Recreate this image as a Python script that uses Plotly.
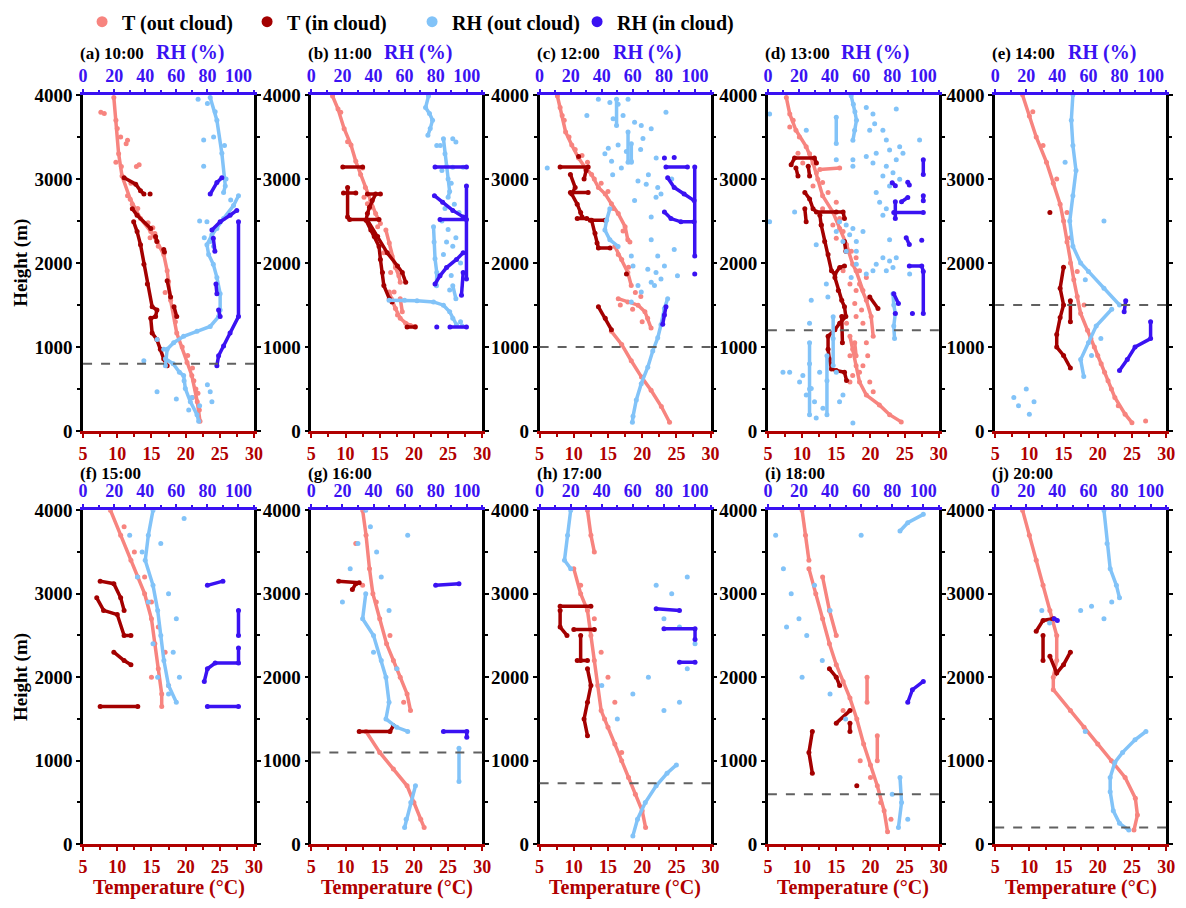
import plotly.graph_objects as go

FONT = "Liberation Serif"
COL_T_OUT = "#F7847F"
COL_T_IN = "#A30000"
COL_RH_OUT = "#82C3F8"
COL_RH_IN = "#3A12F2"
COL_T_AXIS = "#B00000"
COL_RH_AXIS = "#3A12F2"

W, H = 1186, 908
PANEL_LEFT = [79, 310, 541, 772, 1002]
PANEL_W = 173
ROW_SPAN = [(87, 431), (512, 854)]

PANEL_TITLES = ["(a) 10:00", "(b) 11:00", "(c) 12:00", "(d) 13:00", "(e) 14:00",
                "(f) 15:00", "(g) 16:00", "(h) 17:00", "(i) 18:00", "(j) 20:00"]
PBL_HEIGHTS = [800, None, 1000, 1200, 1500, None, 1100, 730, 600, 200]
T_TICKS = [5, 10, 15, 20, 25, 30]
RH_TICKS = [0, 20, 40, 60, 80, 100]
H_TICKS = [0, 1000, 2000, 3000, 4000]

# ---- (a) 10:00 : segments of (value, height) ----
A_T_OUT = [[(9.5, 3970), (9.8, 3700), (10.2, 3300), (10.7, 3035), (11.9, 2760), (13.4, 2530), (14.9, 2375),
            (15.8, 2257), (16.8, 2100), (17.3, 1907), (17.8, 1556), (18.7, 1167), (20.2, 817), (20.9, 661),
            (21.7, 350), (22.1, 117)]]
A_T_OUT_PTS = [(7.6, 3794), (8.1, 3780), (11.5, 3460), (11.3, 3420), (12.8, 3150), (13.2, 3170), (12.0, 2950),
               (11.5, 2800), (12.2, 2700), (13.0, 2650), (14.5, 2480), (15.2, 2420), (15.5, 2350), (14.8, 2300),
               (16.0, 2200), (17.0, 1650), (17.5, 1780), (18.5, 1300), (19.5, 1000), (20.3, 900), (21.0, 750),
               (21.5, 500), (21.0, 400), (22.0, 250), (21.8, 450), (21.2, 600), (10.0, 3600), (10.5, 3500),
               (9.8, 3200), (10.6, 3150)]
A_T_IN = [[(11.0, 3015), (12.7, 2938), (13.4, 2860), (13.9, 2821)], [(14.8, 2821)],
          [(12.2, 2646), (12.9, 2568), (14.9, 2412)], [(15.6, 2315), (15.8, 2257)], [(16.8, 2160), (16.9, 2130)],
          [(12.4, 2490), (12.9, 2374), (13.4, 2218), (13.9, 1984), (14.4, 1751), (15.1, 1479), (15.8, 1440),
           (15.6, 1362), (14.9, 1342), (15.1, 1167), (15.8, 1089), (16.3, 973), (16.8, 856), (17.3, 778)],
          [(17.3, 1790), (17.8, 1595)], [(18.3, 1479), (18.7, 1362)]]
A_RH_OUT = [[(81.8, 3970), (86.1, 3700), (89.3, 3307), (91.5, 2918), (90.4, 2840)],
            [(100, 2800), (96.8, 2685), (90.4, 2529), (86.1, 2412), (82.9, 2335), (79.7, 2218), (80.8, 2101),
             (83.8, 1984), (86.1, 1829), (88.2, 1634), (88.2, 1440), (87.2, 1362), (81.8, 1245), (73.3, 1187),
             (64.7, 1128), (58.3, 1051), (54.1, 973), (53.0, 778)],
            [(53.0, 860), (58.0, 800), (62.0, 700), (64.7, 661), (65.8, 506), (69.0, 350), (73.3, 195), (74.4, 117)]]
A_RH_OUT_PTS = [(77.6, 3463), (77.6, 3152), (79.7, 2490), (81.8, 2257), (47.6, 1089), (51.9, 973), (39.1, 837),
                (47.6, 467), (81.8, 467), (82.9, 350), (74, 3950), (80, 3900), (85, 3800), (84, 3500), (91, 3400),
                (92, 3000), (95, 2750), (75, 2500), (78, 2300), (84, 2200), (65, 600), (70, 400), (75, 300),
                (80, 550), (60, 380), (68, 250)]
A_RH_IN = [[(81.8, 2821), (86.1, 2957), (89.3, 3015)], [(82.9, 2393), (88.2, 2490), (94.6, 2568), (98.9, 2626)],
           [(83.8, 2296), (84.8, 2140)], [(85.5, 1751), (86.1, 1634)], [(87.2, 1440), (88.2, 1362)],
           [(100, 2490), (100, 1362), (94.6, 1167), (90.4, 1012), (87.2, 895), (86.1, 778)]]

# ---- (b) 11:00 ----
B_T_OUT = [[(8.1, 3988), (8.9, 3833), (9.8, 3599), (10.8, 3405), (11.5, 3210), (12.2, 3054), (12.9, 2899),
            (13.7, 2743), (14.4, 2588), (15.1, 2471)],
           [(15.9, 2393), (16.4, 2237), (16.8, 2082), (17.3, 1946), (17.8, 1848), (18.0, 1770)],
           [(16.4, 1654), (16.7, 1576), (17.3, 1459), (18.0, 1342), (18.8, 1284), (19.5, 1257), (20.2, 1245)],
           [(18.0, 1576), (18.3, 1420)]]
B_T_OUT_PTS = [(9.3, 3794), (10.3, 3444), (12.7, 2782), (13.2, 2704), (14.7, 2432), (13.9, 2665), (15.6, 2121),
               (16.6, 1887), (17.1, 1654), (17.6, 1381), (12.5, 3132)]
B_T_IN = [[(9.6, 3144), (12.5, 3144)], [(9.7, 2833), (11.5, 2833)],
          [(10.3, 2899), (10.3, 2549), (10.6, 2518), (14.9, 2518)], [(13.2, 2821), (15.1, 2821)],
          [(14.4, 2821), (13.9, 2743), (13.5, 2665), (13.2, 2588), (13.0, 2510), (13.7, 2393), (14.2, 2315),
           (14.9, 2198), (15.1, 2043), (15.4, 1887), (15.6, 1732), (16.4, 1576), (16.8, 1537)],
          [(13.2, 2510), (14.7, 2315), (16.1, 2121), (17.6, 1965), (18.3, 1887), (18.8, 1770)],
          [(19.0, 1237), (20.2, 1237)]]
B_RH_OUT = [[(75.4, 3988), (73.5, 3850), (76, 3780), (78, 3700), (76.5, 3600), (75, 3520)],
            [(85, 3480), (86, 3300), (87, 3150), (88, 3000), (89, 2850), (88, 2782)],
            [(78.6, 2432), (79, 2250), (79.6, 2050), (80.7, 1887), (80.5, 1730)],
            [(50, 1556), (60, 1556), (68, 1550), (78.6, 1537), (85, 1498), (89, 1420), (91, 1342), (93.4, 1265)],
            [(91, 1730), (93, 1576)]]
B_RH_OUT_PTS = [(80.7, 3400), (83, 3400), (91, 3480), (93, 3440), (97.7, 3140), (91, 3140), (84, 3100), (90, 2950),
                (92, 2700), (95, 2600), (86, 2650), (84, 2500), (88, 2400), (87, 2250), (91, 2200), (93, 2300),
                (85, 2100), (96, 2000), (90, 1850), (89, 1680), (97, 1250), (96, 1300)]
B_RH_IN = [[(79.6, 3144), (99.8, 3144)], [(99.8, 2918), (99.8, 1809)],
           [(79.2, 2801), (84.5, 2724), (91, 2626), (97.7, 2549)], [(82.8, 2518), (99.8, 2518)],
           [(97.7, 2121), (93.4, 2043), (87, 1946), (82.8, 1848), (79.6, 1751)], [(97.7, 1887), (96.6, 1615)],
           [(80.7, 1237)], [(89.2, 1237), (99.8, 1237)]]

# ---- (c) 12:00 ----
C_T_OUT = [[(7.6, 3988), (8.3, 3755), (8.8, 3560), (9.7, 3405), (10.7, 3249), (11.7, 3132), (12.6, 3054),
            (13.6, 2899), (14.6, 2821), (15.5, 2704), (16.5, 2588), (17.5, 2432), (17.9, 2276)],
           [(16.0, 2198), (17.0, 2043), (17.9, 1887), (18.4, 1732)],
           [(16.5, 1576), (17.9, 1537), (19.4, 1498), (20.4, 1420), (20.8, 1342), (21.3, 1226)],
           [(15.5, 1187), (17.0, 1031), (18.4, 837), (19.9, 642), (21.3, 486), (22.8, 292), (24.0, 105)]]
C_T_OUT_PTS = [(8, 3850), (8.6, 3700), (9.3, 3500), (10.2, 3350), (11.2, 3280), (12, 3200), (13, 3000), (14, 2950),
               (15, 2850), (15.8, 2650), (17.2, 2380), (18.2, 2250), (16.5, 2100), (18, 1950), (19, 1650),
               (19.8, 1600), (18.6, 1450), (16.8, 1500), (20, 1300)]
C_T_IN = [[(8.0, 3144), (12.1, 3144)],
          [(9.5, 3054), (10.2, 2899), (9.7, 2821), (10.5, 2700), (11.0, 2600), (11.2, 2549)],
          [(9.5, 2840), (12.1, 2840)], [(10.5, 2529), (11.9, 2529)], [(12.4, 2510), (14.6, 2510)],
          [(12.6, 2510), (13.1, 2354), (13.4, 2237), (13.6, 2179), (15.3, 2179)],
          [(13.6, 1479), (14.6, 1342), (15.5, 1206)], [(17.7, 1868)], [(10.7, 3268)], [(11.5, 3000), (11.8, 3100)]]
C_RH_OUT = [[(45.2, 2646), (43.1, 2510), (42, 2393), (45.2, 2276), (50.5, 2198)],
            [(82.4, 1576), (80.3, 1459), (78.1, 1265), (76, 1109), (72.8, 953), (69.6, 759), (65.4, 564),
             (62.2, 370), (60.1, 175), (59.7, 105)],
            [(49.5, 3949), (49.5, 3638)], [(56.9, 3560), (56.9, 3200)], [(59, 3420), (59, 3200)]]
C_RH_OUT_PTS = [(37.8, 3949), (45.2, 3910), (50.5, 3891), (56.9, 3949), (47.3, 3716), (53.7, 3755), (61.1, 3677),
                (65.4, 3638), (71.8, 3599), (81.3, 3794), (30.4, 3755), (44.2, 3366), (50.5, 3405), (55.8, 3327),
                (66.5, 3482), (46.3, 3210), (52.6, 3132), (59, 3210), (63.3, 2977), (68.6, 2938), (76, 2899),
                (74.9, 2782), (78.1, 2821), (61.1, 2743), (71.8, 2549), (4.9, 3132), (71.8, 2276), (76, 2082),
                (80.3, 1965), (86.6, 2160), (69.6, 1926), (74.9, 1887), (71.8, 1770), (65.4, 1654), (63.3, 1732),
                (59, 1537), (73.9, 1732), (78.1, 1809), (88.7, 1848), (60.1, 1965), (59, 2082), (42, 3300),
                (47, 3050), (65, 3350), (70, 3050), (75, 3250), (85, 3000)]
C_RH_IN = [[(81.3, 3144), (95.1, 3144)], [(80.3, 3249)], [(86.6, 3257)], [(99.8, 3144), (99.8, 2082)],
           [(82.4, 3016), (86.6, 2899), (93, 2821), (99.4, 2743)],
           [(80.3, 2607), (84.5, 2529), (90.9, 2490), (99.4, 2490)],
           [(79.2, 1272), (80.3, 1381), (81.3, 1479)], [(99.8, 1868)]]

# ---- (d) 13:00 ----
D_T_OUT = [[(7.7, 3969), (8.2, 3774), (9.1, 3580), (10.6, 3385), (11.6, 3191), (12.3, 2996), (13.0, 2802),
            (14.5, 2607), (15.5, 2412), (16.5, 2218), (17.4, 1984), (17.9, 1907), (18.9, 1673)],
           [(17.0, 1128), (17.9, 778), (18.4, 584), (19.4, 428), (21.3, 311), (22.8, 195), (24.5, 109)],
           [(18.4, 1751), (19.4, 1556), (20.1, 1362), (20.4, 1128)], [(17.7, 1051), (17.9, 895)],
           [(12.6, 3113), (15.5, 3132)]]
D_T_OUT_PTS = [(8.7, 3700), (9.6, 3500), (11.1, 3300), (12.1, 3074), (13.0, 2957), (13.8, 2840), (15.0, 2724),
               (15.5, 2529), (16.0, 2374), (17.2, 2140), (17.9, 2062), (18.4, 1907), (19.4, 1829), (17.0, 1751),
               (16.0, 1362), (16.5, 1284), (17.9, 1362), (18.9, 1284), (19.4, 1051), (17.4, 973), (17.0, 895),
               (18.9, 778), (17.4, 661), (17.0, 584), (18.4, 700), (19.9, 584), (20.4, 467), (17.9, 1673),
               (17.7, 1518), (18.7, 1440), (19.6, 895), (16.0, 1907), (15.0, 2296), (14.5, 2451), (13.0, 2646),
               (11.6, 2918), (10.1, 3191), (9.4, 3307), (8.2, 3619)]
D_T_IN = [[(8.4, 3171), (8.9, 3249), (11.8, 3249), (12.1, 3190)], [(9.1, 3132), (9.4, 3035)],
          [(10.9, 3152), (11.1, 3035)],
          [(10.4, 2840), (11.1, 2763), (11.6, 2646), (12.1, 2607), (15.0, 2607), (16.0, 2607), (16.2, 2529)],
          [(10.4, 2646), (10.6, 2490)], [(12.6, 2568), (12.8, 2451)],
          [(12.8, 2451), (13.3, 2257), (13.8, 2101), (14.3, 1907), (14.8, 1868), (15.5, 1946), (16.2, 1965)],
          [(14.8, 1829), (15.3, 1673), (15.8, 1556), (16.2, 1479), (16.4, 1362), (15.5, 1284), (14.8, 1206),
           (13.8, 1128), (13.8, 973), (14.0, 856), (14.3, 739), (15.0, 720), (16.2, 700), (16.5, 603)],
          [(15.8, 1362), (15.9, 1051)], [(16.2, 2257), (16.4, 2140)], [(19.9, 1595), (21.1, 1459)]]
D_RH_OUT = [[(53.6, 3990), (55, 3890), (56, 3800), (57, 3700), (55.8, 3580), (54.7, 3460)],
            [(44, 3735), (44, 3424)], [(80.5, 1634), (81, 1500), (82, 1400), (81, 1250), (81.5, 1100)],
            [(26.8, 1050), (26.8, 800), (26.8, 500), (26.8, 195)], [(38, 895), (38, 600), (38, 195)],
            [(42, 1360), (42, 1100), (42, 780)]]
D_RH_OUT_PTS = [(63.3, 3852), (67.6, 3774), (68.7, 3658), (65.5, 3580), (74, 3580), (82.6, 3833), (76.2, 3463),
                (78.3, 3346), (84.8, 3385), (86.9, 3307), (82.6, 3230), (76.2, 3152), (80.5, 3074), (74, 3035),
                (78.3, 2918), (84.8, 2996), (69.7, 2840), (71.9, 2724), (76.2, 2646), (74, 2568), (69.7, 3307),
                (63.3, 3268), (67.6, 3191), (54.7, 3230), (54.7, 3152), (44, 3230), (24.7, 3580), (1.1, 3774),
                (97.6, 3463), (46.1, 2490), (50.4, 2451), (54.7, 2412), (52.6, 2335), (56.9, 2257), (48.3, 2257),
                (50.4, 2140), (61.2, 2374), (44, 2374), (56.9, 2140), (74, 2062), (78.3, 2023), (80.5, 1946),
                (76.2, 1907), (82.6, 2062), (69.7, 1984), (67.6, 1907), (63.3, 1868), (91.2, 1868), (9.7, 700),
                (14, 700), (22.5, 661), (20.4, 584), (27.9, 506), (24.7, 428), (30, 350), (35.4, 272),
                (31.1, 156), (54.7, 97), (33.3, 700), (48.3, 428), (46.1, 350), (44, 700), (38.6, 1595),
                (27.9, 1556), (26.8, 1284), (1.1, 2490), (17.2, 2607), (31.1, 2218), (37.6, 1751), (78.3, 2276),
                (56.9, 1984), (53.6, 1829)]
D_RH_IN = [[(100, 3230), (100, 3055)], [(100, 2800), (100, 2740)], [(80, 2955), (82, 2920)],
           [(90, 2960), (91, 2930)], [(81, 2600), (100, 2600)], [(82, 2730), (82, 2530)], [(86, 2730), (90, 2780)],
           [(89, 2300), (91, 2220)], [(99, 2270)], [(91, 1965), (99, 1965), (100, 1900), (100, 1400)],
           [(81, 1634), (84, 1518)], [(82, 1400)], [(93, 1400)]]

# ---- (e) 14:00 ----
E_T_OUT = [[(9, 4000), (10, 3750), (11, 3500), (12.5, 3200), (13.5, 2950), (14.5, 2700), (15, 2500), (15.5, 2250),
            (16, 2000), (16.5, 1800), (17, 1600), (17.5, 1400), (18.5, 1200), (19.5, 1000), (20.5, 800),
            (21.5, 600), (22.5, 400), (24, 200), (25, 100)]]
E_T_OUT_PTS = [(10.5, 3800), (12, 3400), (14, 3000), (15.5, 2600), (16, 2300), (17, 1900), (18, 1500),
               (19, 1100), (20, 900), (21, 700), (22, 500), (23, 300), (27, 120)]
E_T_IN = [[(15, 1950), (14.5, 1700), (15, 1500), (14.5, 1350), (14, 1150), (14, 1000), (15, 900), (16, 750)],
          [(16, 1550), (16, 1300)], [(13, 2600)]]
E_RH_OUT = [[(50, 4000), (49, 3700), (50, 3400), (52, 3100), (50, 2800), (48, 2500), (50, 2200), (55, 2000),
             (60, 1900), (70, 1700), (80, 1500)], [(75, 1450), (65, 1250), (60, 1050), (55, 850), (57, 650)]]
E_RH_OUT_PTS = [(20, 500), (15, 300), (22, 200), (12, 400), (25, 350), (70, 2500), (58, 1800), (62, 900),
                (68, 1100), (45, 3200)]
E_RH_IN = [[(84, 1550), (83, 1420)], [(100, 1300), (100, 1100), (90, 1000), (85, 850), (80, 720)]]

# ---- (f) 15:00 ----
F_T_OUT = [[(9, 4000), (10.5, 3700), (12, 3400), (13, 3200), (14, 3000), (15, 2700), (15.5, 2400), (16, 2100),
            (16.5, 1800), (16.5, 1650)]]
F_T_OUT_PTS = [(11, 3800), (12.5, 3500), (14, 3200), (15, 2900), (16, 2600), (17, 2300), (15, 2000), (17.5, 1900)]
F_T_IN = [[(7.5, 3150), (9.5, 3120), (10.5, 2950), (11, 2800)],
          [(7, 2950), (8, 2800), (10, 2750), (11, 2500), (12, 2500)], [(9.5, 2300), (11, 2200), (12, 2150)],
          [(7.5, 1650), (13, 1650)]]
F_RH_OUT = [[(45, 4000), (42, 3700), (40, 3400), (45, 3100), (48, 2800), (50, 2500), (52, 2200), (55, 1900),
             (60, 1700)]]
F_RH_OUT_PTS = [(30, 3700), (38, 3500), (50, 3600), (35, 3200), (55, 3000), (42, 2900), (60, 2700), (45, 2400),
                (58, 2300), (48, 2000), (62, 2000), (55, 1800), (65, 3900)]
F_RH_IN = [[(80, 3100), (90, 3150)], [(100, 2800), (100, 2500)],
           [(78, 1950), (80, 2100), (85, 2170), (100, 2170), (100, 2350)], [(80, 1650), (100, 1650)]]

# ---- (g) 16:00 ----
G_T_OUT = [[(12.5, 4000), (13, 3700), (13.5, 3300), (14, 3000), (15, 2700), (16, 2400), (17, 2200), (18, 2000),
            (19, 1800), (19.5, 1600)],
           [(13, 1350), (15, 1100), (17, 900), (19, 700), (20, 500), (21, 300), (21.5, 200)]]
G_T_OUT_PTS = [(11.5, 3600), (12.5, 3100), (14.5, 2900), (16.5, 2500), (17.5, 2100), (18.5, 1700)]
G_T_IN = [[(9, 3150), (12, 3130)], [(11, 3050), (11.5, 3120)], [(12, 1350), (16.5, 1350), (17, 1420)]]
G_RH_OUT = [[(35, 3000), (33, 2700), (40, 2500), (45, 2200), (48, 2000), (50, 1700), (48, 1500), (55, 1400),
             (62, 1350)], [(95, 1150), (95, 750)], [(67, 700), (64, 500), (61, 300), (60, 200)]]
G_RH_OUT_PTS = [(35, 4000), (38, 3800), (30, 3600), (42, 3500), (25, 3300), (45, 3200), (20, 2900), (50, 2800),
                (62, 3700), (40, 2300), (55, 2100)]
G_RH_IN = [[(80, 3100), (95, 3120)], [(85, 1350), (100, 1350), (100, 1280)]]

# ---- (h) 17:00 ----
H_T_OUT = [[(12, 4000), (12.5, 3700), (13, 3500)],
           [(10, 3300), (11, 3000), (12, 2800), (12.5, 2500), (13, 2200), (13.5, 1900), (14, 1600), (15, 1400),
            (16, 1200), (17, 1000), (18, 800), (19, 600), (20, 400), (20.5, 200)]]
H_T_OUT_PTS = [(11, 3100), (13, 2700), (14, 2300), (15, 2000), (16, 1700), (14.5, 1500), (17, 1100)]
H_T_IN = [[(8, 2850), (12.5, 2850)], [(8, 2800), (8, 2600), (9, 2500)], [(10, 2570), (13, 2570)],
          [(11, 2500), (11, 2200)], [(10.5, 2200), (12, 2200)],
          [(12, 2100), (12.5, 1900), (12, 1700), (11.5, 1500), (12, 1300)]]
H_RH_OUT = [[(20, 4000), (18, 3700), (16, 3400), (20, 3300)],
            [(60, 100), (63, 300), (68, 500), (75, 700), (82, 850), (88, 950)]]
H_RH_OUT_PTS = [(75, 3100), (85, 3000), (95, 3200), (80, 2700), (90, 2600), (100, 2400), (70, 2000), (60, 1800),
                (80, 1600), (90, 1700), (50, 1500), (40, 1900), (95, 2100)]
H_RH_IN = [[(75, 2820), (90, 2800)], [(80, 2580), (100, 2580), (100, 2450)], [(90, 2180), (100, 2180)]]

# ---- (i) 18:00 ----
I_T_OUT = [[(10, 4000), (10.5, 3700), (11, 3400)],
           [(11, 3300), (12, 3000), (13, 2700), (14, 2400), (15, 2150), (16, 1950), (17, 1750), (18, 1500),
            (19, 1200), (20, 950), (21, 700), (22, 400), (22.5, 150)],
           [(13, 3200), (14, 2800), (15, 2500)], [(19.5, 2000), (19.5, 1700)], [(21, 1300), (21, 1000)]]
I_T_OUT_PTS = [(16, 1600), (18.5, 1000), (20, 800), (21.5, 500), (23, 300)]
I_T_IN = [[(11.5, 1350), (11, 1100), (11.5, 850)], [(14, 2100), (15, 2000), (15.5, 1900)],
          [(15, 1450), (17, 1600)], [(17, 1450), (17, 1350)], [(18, 700)]]
I_RH_OUT = [[(85, 3750), (90, 3850), (100, 3950)], [(85, 800), (86, 500), (84, 200)]]
I_RH_OUT_PTS = [(5, 3700), (10, 3300), (15, 3000), (20, 2700), (25, 2500), (30, 3100), (35, 2200), (40, 2800),
                (12, 2600), (22, 2000), (40, 1800), (50, 1500), (80, 600), (90, 300), (60, 3700)]
I_RH_IN = [[(90, 1700), (93, 1850), (100, 1950)]]

# ---- (j) 20:00 ----
J_T_OUT = [[(9, 4000), (10, 3700), (11, 3400), (12, 3100), (13, 2800), (14, 2500), (14, 2200), (13.5, 2000),
            (13.5, 1850), (16, 1600), (18, 1400), (20, 1200), (22, 1000), (24, 800), (25.5, 550), (25.8, 350),
            (25.3, 170)]]
J_T_OUT_PTS = []
J_T_IN = [[(11, 2550), (12, 2680), (13.5, 2700)], [(12, 2500), (12, 2200)],
          [(13, 2250), (14, 2050), (15, 2150), (16, 2300)]]
J_RH_OUT = [[(70, 4000), (72, 3600), (74, 3300), (78, 3100), (80, 2950)],
            [(97, 1350), (90, 1250), (82, 1100), (77, 980), (74, 800), (74, 630), (76, 400), (80, 250), (86, 170)]]
J_RH_OUT_PTS = [(30, 2800), (35, 2650), (55, 2800), (62, 2850), (70, 2700), (75, 2900), (58, 1350)]
J_RH_IN = [[(38, 2700), (40, 2680)]]

PANELS = [
    (A_T_OUT, A_T_OUT_PTS, A_T_IN, A_RH_OUT, A_RH_OUT_PTS, A_RH_IN),
    (B_T_OUT, B_T_OUT_PTS, B_T_IN, B_RH_OUT, B_RH_OUT_PTS, B_RH_IN),
    (C_T_OUT, C_T_OUT_PTS, C_T_IN, C_RH_OUT, C_RH_OUT_PTS, C_RH_IN),
    (D_T_OUT, D_T_OUT_PTS, D_T_IN, D_RH_OUT, D_RH_OUT_PTS, D_RH_IN),
    (E_T_OUT, E_T_OUT_PTS, E_T_IN, E_RH_OUT, E_RH_OUT_PTS, E_RH_IN),
    (F_T_OUT, F_T_OUT_PTS, F_T_IN, F_RH_OUT, F_RH_OUT_PTS, F_RH_IN),
    (G_T_OUT, G_T_OUT_PTS, G_T_IN, G_RH_OUT, G_RH_OUT_PTS, G_RH_IN),
    (H_T_OUT, H_T_OUT_PTS, H_T_IN, H_RH_OUT, H_RH_OUT_PTS, H_RH_IN),
    (I_T_OUT, I_T_OUT_PTS, I_T_IN, I_RH_OUT, I_RH_OUT_PTS, I_RH_IN),
    (J_T_OUT, J_T_OUT_PTS, J_T_IN, J_RH_OUT, J_RH_OUT_PTS, J_RH_IN),
]


def trail(segments, dots=()):
    """Flatten profile segments (plus lone dots) into x/y lists broken by None."""
    xs, ys = [], []
    for seg in list(segments) + [[d] for d in dots]:
        for v, h in seg:
            xs.append(v)
            ys.append(h)
        xs.append(None)
        ys.append(None)
    return xs, ys


def name(prefix, n):
    return prefix if n == 1 else f"{prefix}{n}"


def bold(size, color="black"):
    return dict(family=FONT, size=size, color=color, weight="bold")


fig = go.Figure()
layout = {}
annotations = []
shapes = []

for k, (t_out, t_out_pts, t_in, rh_out, rh_out_pts, rh_in) in enumerate(PANELS):
    row, col = divmod(k, 5)
    left = PANEL_LEFT[col]
    top, bottom = ROW_SPAN[row]
    xt, xr, yy = 2 * k + 1, 2 * k + 2, k + 1
    dom_x = [left / W, (left + PANEL_W) / W]
    dom_y = [1 - bottom / H, 1 - top / H]

    layout[name("xaxis", xt)] = dict(
        domain=dom_x, anchor=name("y", yy), range=[5, 30], side="bottom",
        tickvals=T_TICKS, ticks="outside", ticklen=4, tickwidth=2, tickcolor=COL_T_AXIS,
        minor=dict(dtick=2.5, tick0=5, ticks="outside", ticklen=3, tickcolor=COL_T_AXIS, tickwidth=1.5),
        showline=True, linecolor=COL_T_AXIS, linewidth=3, showgrid=False, zeroline=False,
        tickfont=bold(18, COL_T_AXIS))
    layout[name("xaxis", xr)] = dict(
        domain=dom_x, anchor=name("y", yy), overlaying=name("x", xt), range=[0, 110], side="top",
        tickvals=RH_TICKS, ticks="outside", ticklen=3, tickwidth=2, tickcolor=COL_RH_AXIS,
        minor=dict(dtick=10, tick0=0, ticks="outside", ticklen=2, tickcolor=COL_RH_AXIS, tickwidth=1.5),
        showline=True, linecolor=COL_RH_AXIS, linewidth=3, showgrid=False, zeroline=False,
        tickfont=bold(18, COL_RH_AXIS))
    layout[name("yaxis", yy)] = dict(
        domain=dom_y, anchor=name("x", xt), range=[0, 4000], tickvals=H_TICKS,
        ticks="outside", ticklen=4, tickwidth=2, tickcolor="black",
        minor=dict(dtick=500, tick0=0, ticks="outside", ticklen=3, tickcolor="black", tickwidth=1.5),
        showline=True, linecolor="black", linewidth=2.5, mirror="ticks", showgrid=False, zeroline=False,
        tickfont=bold(19))

    xa_t, xa_r, ya = name("x", xt), name("x", xr), name("y", yy)
    series = [
        (t_out, t_out_pts, COL_T_OUT, xa_t),
        (rh_out, rh_out_pts, COL_RH_OUT, xa_r),
        (t_in, (), COL_T_IN, xa_t),
        (rh_in, (), COL_RH_IN, xa_r),
    ]
    for segs, dots, color, xa in series:
        xs, ys = trail(segs, dots)
        fig.add_trace(go.Scatter(
            x=xs, y=ys, xaxis=xa, yaxis=ya, mode="lines+markers",
            line=dict(color=color, width=3.5), marker=dict(color=color, size=5),
            connectgaps=False, showlegend=False, hoverinfo="skip"))

    if PBL_HEIGHTS[k] is not None:
        shapes.append(dict(type="line", xref=f"{xa_t} domain", yref=ya, x0=0, x1=1,
                           y0=PBL_HEIGHTS[k], y1=PBL_HEIGHTS[k],
                           line=dict(color="#606060", width=2, dash="dash")))

    title_y = 45 if row == 0 else 474
    annotations.append(dict(text=PANEL_TITLES[k], xref="paper", yref="paper", x=(left - 5) / W,
                            y=1 - title_y / H, xanchor="left", yanchor="middle", showarrow=False,
                            font=bold(17)))
    if row == 0:
        annotations.append(dict(text="RH (%)", xref="paper", yref="paper", x=(left + 72) / W,
                                y=1 - 43 / H, xanchor="left", yanchor="middle", showarrow=False,
                                font=bold(20, COL_RH_AXIS)))
    else:
        annotations.append(dict(text="Temperature (°C)", xref="paper", yref="paper",
                                x=(left + PANEL_W / 2) / W, y=1 - 898 / H, xanchor="center",
                                yanchor="middle", showarrow=False, font=bold(20, COL_T_AXIS)))
    if col == 0:
        annotations.append(dict(text="Height (m)", xref="paper", yref="paper", x=16 / W,
                                y=1 - (top + bottom) / 2 / H, xanchor="center", yanchor="middle",
                                textangle=-90, showarrow=False, font=bold(19)))

# legend entries
for label, color in [("T (out cloud)", COL_T_OUT), ("T (in cloud)", COL_T_IN),
                     ("RH (out cloud)", COL_RH_OUT), ("RH (in cloud)", COL_RH_IN)]:
    fig.add_trace(go.Scatter(x=[None], y=[None], mode="markers", name=label,
                             marker=dict(color=color, size=11), showlegend=True))

fig.update_layout(
    width=W, height=H, margin=dict(l=0, r=0, t=0, b=0),
    paper_bgcolor="white", plot_bgcolor="white",
    showlegend=True,
    legend=dict(orientation="h", x=78 / W, y=1 - 12 / H, xanchor="left", yanchor="middle",
                font=bold(20), entrywidth=120, entrywidthmode="pixels", itemwidth=30,
                bgcolor="rgba(0,0,0,0)"),
    annotations=annotations, shapes=shapes,
    **layout)

fig.write_html("out.html")
